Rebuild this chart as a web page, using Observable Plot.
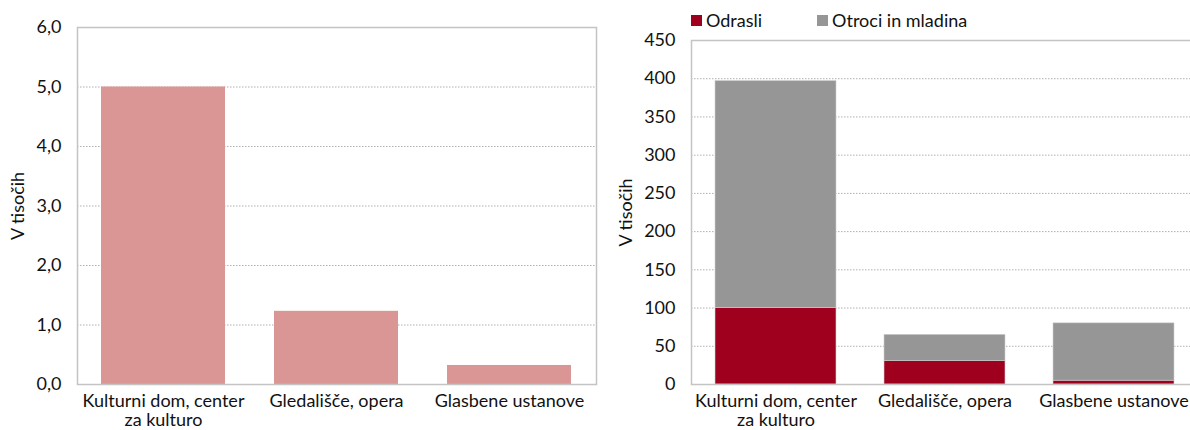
<!DOCTYPE html>
<html>
<head>
<meta charset="utf-8">
<script src="https://cdn.jsdelivr.net/npm/d3@7"></script>
<script src="https://cdn.jsdelivr.net/npm/@observablehq/plot@0.6"></script>
<style>
  html, body { margin: 0; padding: 0; background: #fff; }
  body { width: 1190px; height: 430px; overflow: hidden; position: relative; font-family: Lato, "Noto Sans", sans-serif; }
  #left { position: absolute; left: 0; top: 0; width: 600px; }
  #right { position: absolute; left: 600px; top: 0; width: 600px; }
  #right svg, #left svg { max-width: none !important; }
  #legend { position: absolute; left: 691px; top: 9px; font-size: 18px; color: #111; display: flex; gap: 0; }
  .sw { display: inline-flex; align-items: center; }
  .sq { width: 11px; height: 11px; display: inline-block; margin-right: 4px; }
</style>
</head>
<body>
<div id="left"></div>
<div id="right"></div>
<div id="legend"></div>
<script>
// Data
const categories = ["Kulturni dom, center za kulturo", "Gledališče, opera", "Glasbene ustanove"];
const tickLabels = ["Kulturni dom, center\nza kulturo", "Gledališče, opera", "Glasbene ustanove"];
const leftValues = [5.0, 1.23, 0.32];          // V tisočih
const odrasli = [100, 31, 5];                    // V tisočih
const otroci = [297, 34, 75];                    // V tisočih
const seriesNames = ["Odrasli", "Otroci in mladina"];
const seriesColors = ["#9e001e", "#969696"];
const leftTicks = [0, 1, 2, 3, 4, 5, 6];
const rightTicks = [0, 50, 100, 150, 200, 250, 300, 350, 400, 450];

const labelOf = new Map(categories.map((c, i) => [c, tickLabels[i]]));
const fontStyle = {fontFamily: "Lato, 'Noto Sans', sans-serif", fontSize: "18px", color: "#111"};

// Left chart
const leftData = categories.map((c, i) => ({cat: c, v: leftValues[i]}));
const left = Plot.plot({
  width: 600, height: 430,
  marginLeft: 77, marginRight: 4, marginTop: 27, marginBottom: 46,
  style: fontStyle,
  x: {domain: categories, paddingInner: 0.283, paddingOuter: 0.1415},
  y: {domain: [0, 6]},
  marks: [
    Plot.gridY(leftTicks.filter(t => t > 0 && t < 6), {stroke: "#b0b0b0", strokeOpacity: 1, strokeDasharray: "1.5,1.5", strokeWidth: 1}),
    Plot.barY(leftData, {x: "cat", y: "v", fill: "#d99694"}),
    Plot.frame({stroke: "#c4c4c4", strokeWidth: 1.5}),
    Plot.axisY(leftTicks, {tickSize: 0, tickPadding: 16, tickFormat: d => d.toFixed(1).replace(".", ","), label: "V tisočih", labelAnchor: "center", labelArrow: "none", labelOffset: 66, fontSize: 18}),
    Plot.axisX({tickSize: 0, tickPadding: 8, tickFormat: d => labelOf.get(d), label: null, fontSize: 18, lineHeight: 1.1})
  ]
});
document.getElementById("left").appendChild(left);

// Right chart (stacked)
const rightData = [];
categories.forEach((c, i) => {
  rightData.push({cat: c, s: seriesNames[0], v: odrasli[i]});
  rightData.push({cat: c, s: seriesNames[1], v: otroci[i]});
});
const right = Plot.plot({
  width: 600, height: 430,
  marginLeft: 91, marginRight: 2, marginTop: 40, marginBottom: 46,
  style: fontStyle,
  x: {domain: categories, paddingInner: 0.284, paddingOuter: 0.142},
  y: {domain: [0, 450]},
  color: {domain: seriesNames, range: seriesColors},
  marks: [
    Plot.gridY(rightTicks.filter(t => t > 0 && t < 450), {stroke: "#b0b0b0", strokeOpacity: 1, strokeDasharray: "1.5,1.5", strokeWidth: 1}),
    Plot.barY(rightData, {x: "cat", y: "v", fill: "s", order: seriesNames, stroke: "#d0d0d0", strokeWidth: 0.6}),
    Plot.frame({stroke: "#c4c4c4", strokeWidth: 1.5}),
    Plot.axisY(rightTicks, {tickSize: 0, tickPadding: 16, label: "V tisočih", labelAnchor: "center", labelArrow: "none", labelOffset: 72, fontSize: 18}),
    Plot.axisX({tickSize: 0, tickPadding: 8, tickFormat: d => labelOf.get(d), label: null, fontSize: 18, lineHeight: 1.1})
  ]
});
document.getElementById("right").appendChild(right);

// Legend
const legend = document.getElementById("legend");
seriesNames.forEach((n, i) => {
  const item = document.createElement("span");
  item.className = "sw";
  item.style.marginRight = i === 0 ? "55px" : "0";
  item.innerHTML = `<span class="sq" style="background:${seriesColors[i]}"></span>${n}`;
  legend.appendChild(item);
});
</script>
</body>
</html>
